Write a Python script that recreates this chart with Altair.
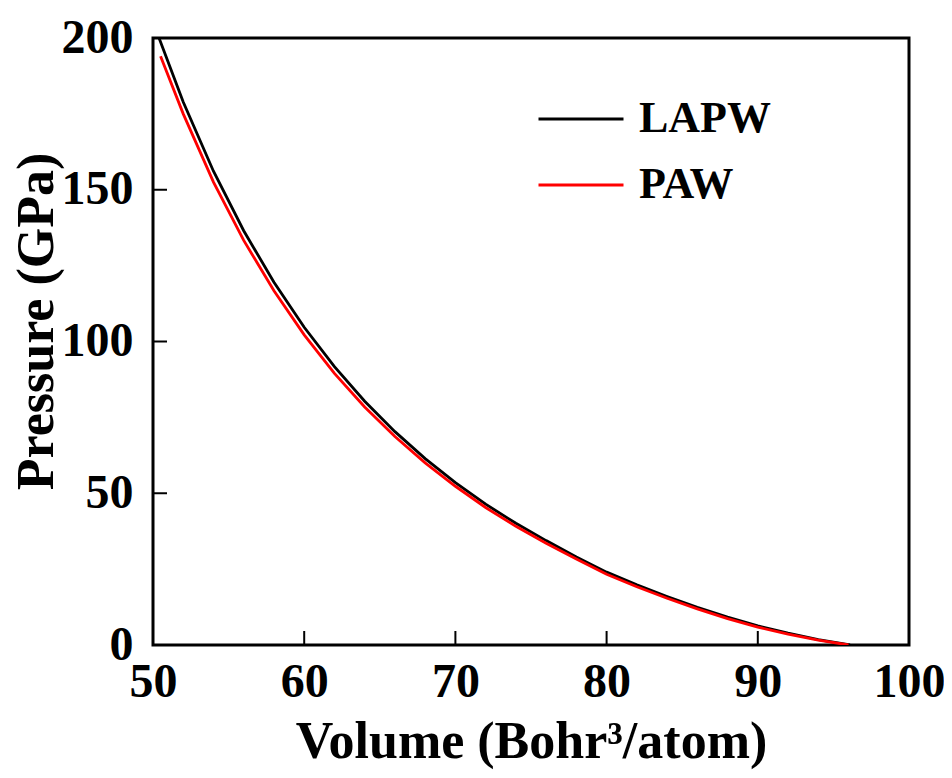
import altair as alt
import pandas as pd

# LAPW curve (volume in Bohr^3/atom, pressure in GPa)
lapw_v = [50.4, 52, 54, 56, 58, 60, 62, 64, 66, 68, 70, 72, 74, 76, 78, 80, 82, 84, 86, 88, 90, 92, 94, 96.1]
lapw_p = [200, 178.9, 156.1, 136.5, 119.5, 104.7, 91.7, 80.3, 70.3, 61.4, 53.5, 46.4, 40.1, 34.4, 29.0, 24.0, 19.8, 16.0, 12.4, 9.2, 6.3, 3.9, 1.8, 0]

# PAW curve
paw_v = [50.5, 52, 54, 56, 58, 60, 62, 64, 66, 68, 70, 72, 74, 76, 78, 80, 82, 84, 86, 88, 90, 92, 94, 96.0]
paw_p = [194, 175, 152.5, 133.3, 116.7, 102.2, 89.5, 78.4, 68.7, 60.0, 52.3, 45.3, 39.1, 33.5, 28.3, 23.3, 19.2, 15.4, 11.9, 8.7, 5.9, 3.6, 1.6, 0]

series = ["LAPW", "PAW"]
colors = ["#000000", "#ff0000"]

x_ticks = [60, 70, 80, 90]
y_ticks = [50, 100, 150]
x_labels = [50, 60, 70, 80, 90, 100]
y_labels = [0, 50, 100, 150, 200]

df = pd.DataFrame({
    "V": lapw_v + paw_v,
    "P": lapw_p + paw_p,
    "series": ["LAPW"] * len(lapw_v) + ["PAW"] * len(paw_v),
    "order": list(range(len(lapw_v))) + list(range(len(paw_v))),
})

FONT = "Liberation Serif"
W, H = 756, 607

xscale = alt.Scale(domain=[50, 100], nice=False, zero=False)
yscale = alt.Scale(domain=[0, 200], nice=False)

xaxis = alt.Axis(values=x_labels, title="Volume (Bohr³/atom)", domain=False, ticks=False,
                 grid=False, labelFlush=False, labelFont=FONT, labelFontSize=48,
                 labelFontWeight="bold", labelColor="black", labelPadding=13,
                 titleFont=FONT, titleFontSize=52, titleFontWeight="bold",
                 titleColor="black", titlePadding=10, format="d")
yaxis = alt.Axis(values=y_labels, title="Pressure (GPa)", domain=False, ticks=False,
                 grid=False, labelFlush=False, labelFont=FONT, labelFontSize=48,
                 labelFontWeight="bold", labelColor="black", labelPadding=20,
                 titleFont=FONT, titleFontSize=52, titleFontWeight="bold",
                 titleColor="black", titleX=-90, titleY=283, titleBaseline="bottom",
                 titleAngle=270, format="d")

lines = alt.Chart(df).mark_line(strokeWidth=2.8, clip=True).encode(
    x=alt.X("V:Q", scale=xscale, axis=xaxis),
    y=alt.Y("P:Q", scale=yscale, axis=yaxis),
    color=alt.Color("series:N", scale=alt.Scale(domain=series, range=colors),
                    legend=alt.Legend(title=None, orient="none", legendX=384, legendY=37,
                                      symbolType="stroke", symbolSize=7225,
                                      symbolStrokeWidth=2.8, labelFont=FONT,
                                      labelFontSize=44, labelFontWeight="bold",
                                      labelColor="black", labelOffset=14,
                                      rowPadding=-48)),
    order="order:Q",
)

xt = alt.Chart(pd.DataFrame({"t": x_ticks})).mark_rule(color="black", strokeWidth=2).encode(
    x=alt.X("t:Q", scale=xscale),
    y=alt.value(H),
    y2=alt.value(H - 14),
)
yt = alt.Chart(pd.DataFrame({"t": y_ticks})).mark_rule(color="black", strokeWidth=2).encode(
    y=alt.Y("t:Q", scale=yscale),
    x=alt.value(0),
    x2=alt.value(14),
)

chart = alt.layer(lines, xt, yt).properties(
    width=W, height=H,
    autosize=alt.AutoSizeParams(type="none"),
    padding={"left": 145, "top": 30, "right": 35, "bottom": 125},
).configure(background="white").configure_view(stroke="black", strokeWidth=3)

chart.save("out.html", embed_options={"renderer": "svg", "actions": False})
